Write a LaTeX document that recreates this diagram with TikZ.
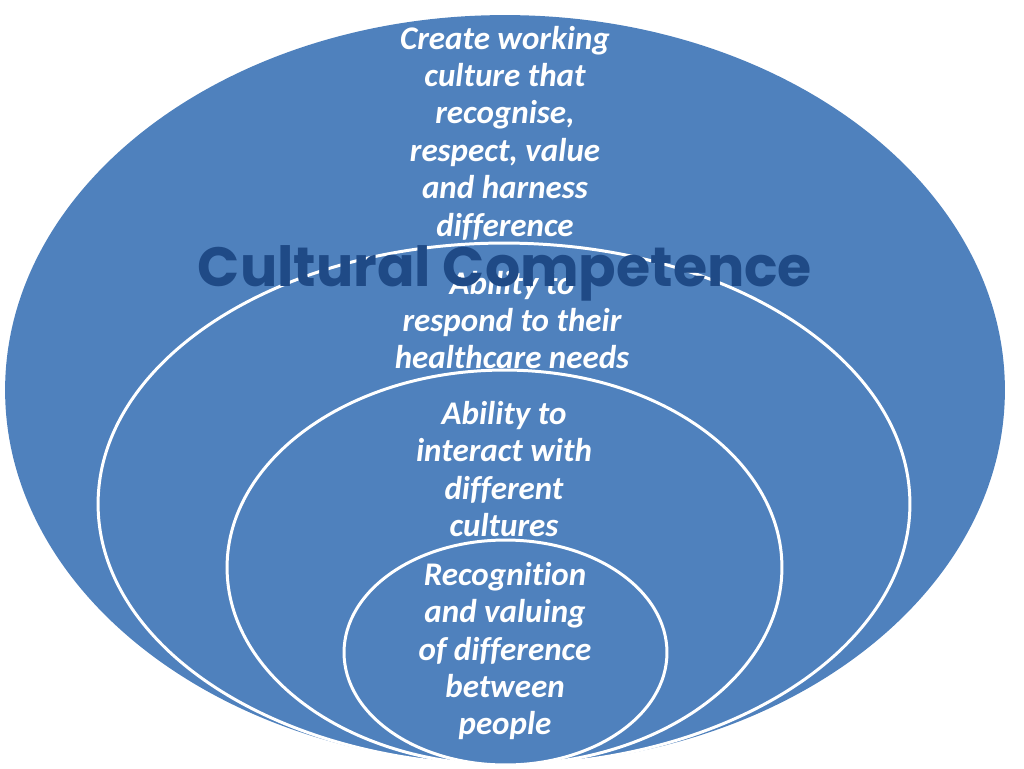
\documentclass[tikz,border=0pt]{standalone}
\usepackage{fontspec}
\setmainfont[Ligatures=NoCommon]{Carlito}
\newfontfamily\titlefont{Poppins}
\usetikzlibrary{shapes.geometric}
\definecolor{ringblue}{HTML}{4F81BD}
\definecolor{titleblue}{HTML}{1F4A86}
\tikzset{
  ring/.style={draw=white, line width=1.7pt, fill=ringblue, ellipse, inner sep=0pt},
  label/.style={text=white, align=center, font=\fontsize{18.8}{21.3}\selectfont\bfseries\itshape},
  title/.style={text=titleblue, font=\titlefont\fontsize{31.5}{36}\selectfont\bfseries}
}
\begin{document}
\begin{tikzpicture}[x=0.02cm, y=-0.02cm]
\useasboundingbox (0,0) rectangle (1024,768);
\node[ring, draw=none, minimum width=20cm, minimum height=15cm] (1) at (505,390) {};
\node[label] (t1) at (505,133) {Create working\\culture that\\recognise,\\respect, value\\and harness\\difference};
\node[ring, minimum width=16.24cm, minimum height=10.44cm] (2) at (504,504) {};
\node[label] (t2) at (512,320) {Ability to\\respond to their\\healthcare needs};
\node[ring, minimum width=11.1cm, minimum height=7.9cm] (3) at (504.5,567.5) {};
\node[label] (t3) at (504,469) {Ability to\\interact with\\different\\cultures};
\node[ring, minimum width=6.46cm, minimum height=4.5cm] (4) at (505.5,652.5) {};
\node[label] (t4) at (505,651) {Recognition\\and valuing\\of difference\\between\\people};
\node[title] (cc) at (505,273) {Cultural Competence};
\end{tikzpicture}
\end{document}
